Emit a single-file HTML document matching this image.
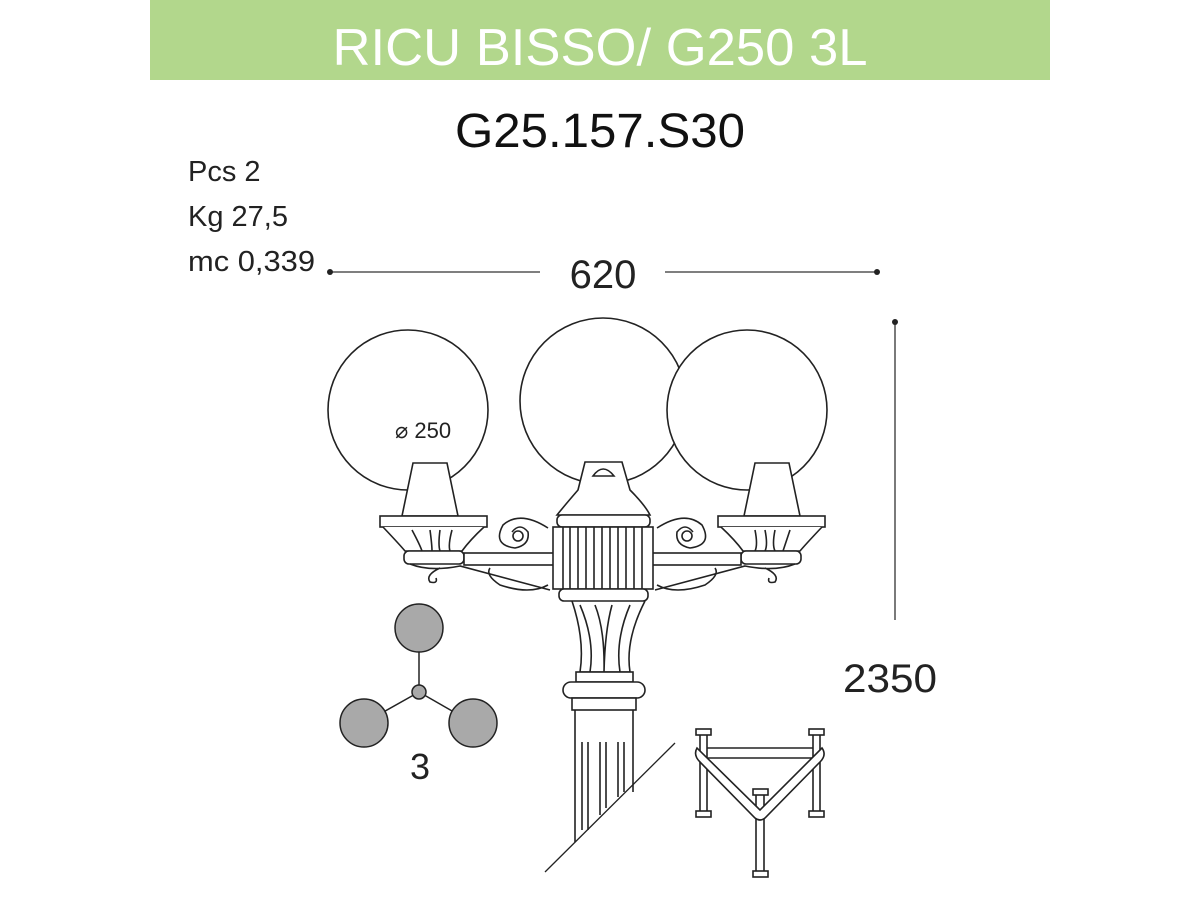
<!DOCTYPE html>
<html><head><meta charset="utf-8"><style>
html,body{margin:0;padding:0;background:#fff;width:1200px;height:900px;overflow:hidden}
svg{display:block}
text{font-family:"Liberation Sans",sans-serif}
</style></head><body>
<svg width="1200" height="900" viewBox="0 0 1200 900" xmlns="http://www.w3.org/2000/svg">
<rect x="150" y="0" width="900" height="80" fill="#b2d78c"/>
<text x="600" y="65" font-size="52" fill="#fff" text-anchor="middle" textLength="535" lengthAdjust="spacingAndGlyphs">RICU BISSO/ G250 3L</text>
<text x="600" y="147" font-size="48" fill="#111" text-anchor="middle" textLength="290" lengthAdjust="spacingAndGlyphs">G25.157.S30</text>
<text x="188" y="181" font-size="29" fill="#222">Pcs 2</text>
<text x="188" y="226" font-size="29" fill="#222">Kg 27,5</text>
<text x="188" y="271" font-size="29" fill="#222" textLength="127" lengthAdjust="spacingAndGlyphs">mc 0,339</text>
<g stroke="#333" stroke-width="1.3" fill="none">
<line x1="330" y1="272" x2="540" y2="272"/>
<line x1="665" y1="272" x2="877" y2="272"/>
<line x1="895" y1="322" x2="895" y2="620"/>
</g>
<circle cx="330" cy="272" r="3" fill="#222"/><circle cx="877" cy="272" r="3" fill="#222"/><circle cx="895" cy="322" r="3" fill="#222"/>
<text x="603" y="288" font-size="40" fill="#222" text-anchor="middle">620</text>
<text x="843" y="692" font-size="40" fill="#222" textLength="94" lengthAdjust="spacingAndGlyphs">2350</text>
<g stroke="#222" stroke-width="1.6" fill="none">
<!-- globes -->
<circle cx="603" cy="401" r="83" fill="#fff"/>
<circle cx="408" cy="410" r="80" fill="#fff"/>
<circle cx="747" cy="410" r="80" fill="#fff"/>
<!-- left holder -->
<path d="M413,463 H447 L458,516 H402 Z" fill="#fff"/>
<rect x="380" y="516" width="107" height="11" fill="#fff"/>
<path d="M383,527 Q400,545 405,551 H462 Q470,540 484,527" fill="#fff"/>
<path d="M412,530 Q420,545 422,551 M430,530 Q432,545 432,551 M440,530 Q438,545 440,551 M452,530 Q448,545 450,551"/>
<rect x="404" y="551" width="60" height="13" rx="5" fill="#fff"/>
<path d="M410,564 Q430,572 460,566 L550,590 M440,568 Q425,575 430,582 Q438,584 436,578"/>
<!-- right holder -->
<path d="M755,463 H789 L800,516 H744 Z" fill="#fff"/>
<rect x="718" y="516" width="107" height="11" fill="#fff"/>
<path d="M721,527 Q735,540 743,551 H800 Q805,545 822,527" fill="#fff"/>
<path d="M755,530 Q758,545 755,551 M765,530 Q768,545 765,551 M775,530 Q772,545 775,551 M790,530 Q785,545 783,551"/>
<rect x="741" y="551" width="60" height="13" rx="5" fill="#fff"/>
<path d="M795,564 Q775,572 745,566 L655,590 M765,568 Q780,575 775,582 Q767,584 769,578"/>
<!-- arms -->
<rect x="464" y="553" width="93" height="12" fill="#fff"/>
<rect x="648" y="553" width="93" height="12" fill="#fff"/>
<path d="M548,528 Q520,510 503,525 Q492,545 515,548 Q530,545 528,532 Q520,522 512,532"/>
<path d="M548,585 Q530,595 500,585 Q485,575 490,568"/>
<path d="M657,528 Q685,510 702,525 Q713,545 690,548 Q675,545 677,532 Q685,522 693,532"/>
<path d="M657,585 Q675,595 705,585 Q720,575 715,568"/>
<circle cx="518" cy="536" r="5"/><circle cx="687" cy="536" r="5"/>
<!-- center top -->
<path d="M585,462 H622 L630,490 Q645,505 650,515 H557 Q565,505 578,490 Z" fill="#fff"/>
<path d="M593,476 Q603,462 614,476 Z" fill="#fff"/>
<rect x="557" y="515" width="93" height="12" rx="5" fill="#fff"/>
<rect x="553" y="527" width="100" height="62" fill="#fff"/>
<path d="M563,527 V589 M570,527 V589 M578,527 V589 M586,527 V589 M594,527 V589 M602,527 V589 M610,527 V589 M618,527 V589 M626,527 V589 M634,527 V589 M642,527 V589"/>
<rect x="559" y="589" width="89" height="12" rx="5" fill="#fff"/>
<!-- column -->
<path d="M572,601 Q585,640 580,672 H630 Q625,640 645,601"/>
<path d="M580,605 Q595,640 590,672 M595,605 Q605,630 604,672 M630,605 Q615,640 620,672 M612,605 Q605,630 604,672"/>
<rect x="576" y="672" width="57" height="10" fill="#fff"/>
<rect x="563" y="682" width="82" height="16" rx="8" fill="#fff"/>
<rect x="572" y="698" width="64" height="12" fill="#fff"/>
<path d="M575,710 V842 M633,710 V792"/>
<path d="M582,742 V830 M588,742 V830 M600,742 V815 M606,742 V808 M618,742 V797 M624,742 V792"/>
<line x1="545" y1="872" x2="675" y2="743" stroke-width="1.3"/>
<!-- base frame -->
<rect x="696" y="729" width="15" height="6"/><rect x="809" y="729" width="15" height="6"/>
<rect x="696" y="811" width="15" height="6"/><rect x="809" y="811" width="15" height="6"/>
<rect x="753" y="789" width="15" height="6"/><rect x="753" y="871" width="15" height="6"/>
<path d="M700,735 V811 M707,735 V811 M813,735 V811 M820,735 V811 M756,795 V871 M764,795 V871"/>
<path d="M707,748 H813 M707,758 H813"/>
<path d="M697,748 Q693,755 700,762 L755,818 Q760,822 765,818 L820,762 Q827,755 822,748 L760,810 Z" fill="#fff"/>
</g>
<text x="395" y="438" font-size="22" fill="#222">⌀ 250</text>
<g stroke="#222" stroke-width="1.5">
<line x1="419" y1="640" x2="419" y2="692"/><line x1="419" y1="692" x2="364" y2="723"/><line x1="419" y1="692" x2="473" y2="723"/>
<circle cx="419" cy="628" r="24" fill="#a9a9a9"/>
<circle cx="364" cy="723" r="24" fill="#a9a9a9"/>
<circle cx="473" cy="723" r="24" fill="#a9a9a9"/>
<circle cx="419" cy="692" r="7" fill="#a9a9a9"/>
</g>
<text x="420" y="779" font-size="36" fill="#222" text-anchor="middle">3</text>
</svg>
</body></html>
